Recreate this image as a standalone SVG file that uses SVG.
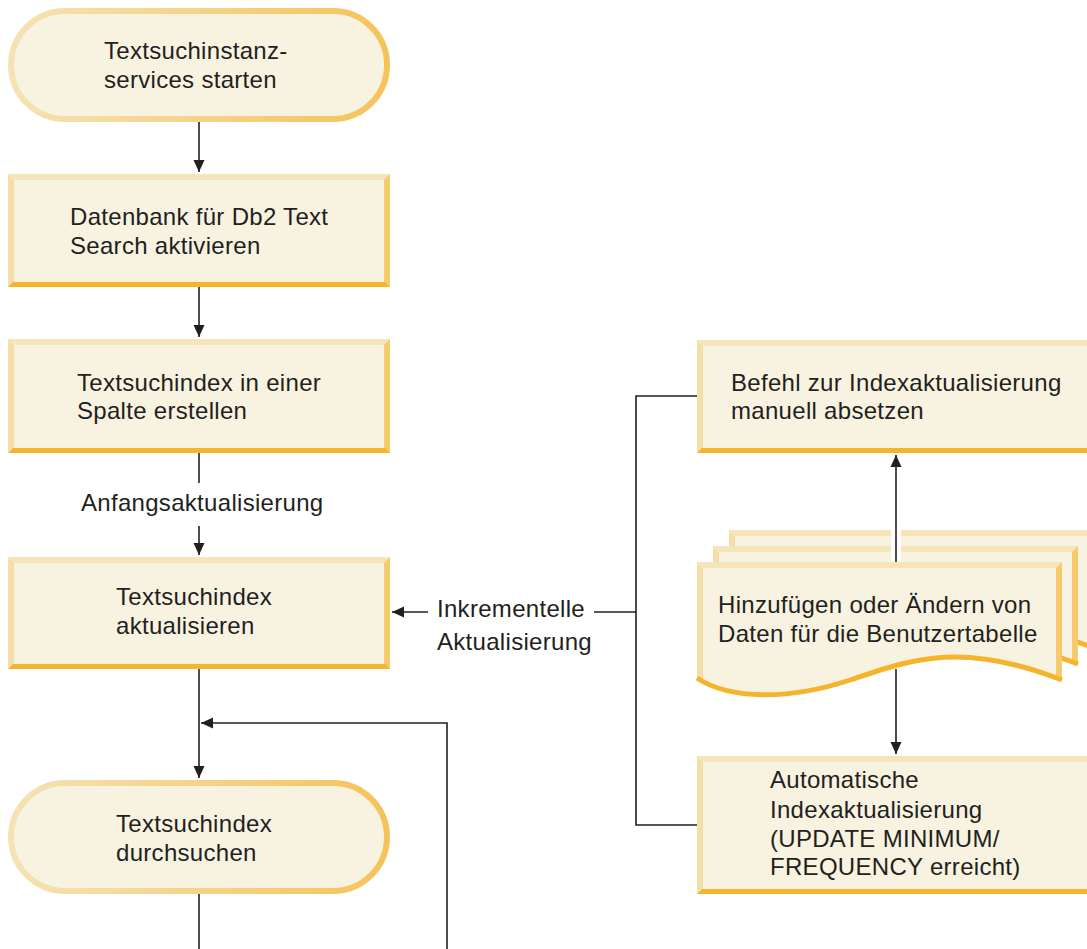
<svg xmlns="http://www.w3.org/2000/svg" width="1087" height="949" viewBox="0 0 1087 949">
<style>
.t{font-family:"Liberation Sans",Arial,sans-serif;font-size:24px;letter-spacing:0.3px;fill:#231F20}
.fill{fill:#F8F2E1}
.bt{fill:#F6E5BA}
.bl{fill:#F5DFA9}
.br{fill:#F6CB6B}
.bb{fill:#F4B42C}
.ln{stroke:#231F20;stroke-width:1.6;fill:none}
</style>
<defs>
<linearGradient id="tg" x1="0" y1="0" x2="1" y2="0">
<stop offset="0" stop-color="#F5E3B5"/>
<stop offset="1" stop-color="#F5C35A"/>
</linearGradient>
<marker id="ah" markerWidth="13" markerHeight="13" refX="12" refY="6.5" orient="auto" markerUnits="userSpaceOnUse">
<path d="M0,1 L12,6.5 L0,12 Z" fill="#231F20"/>
</marker>
<g id="doc">
<path class="fill" d="M697,562 H1062 V680 C960,640 910,660 850,680 C790,700 730,700 697,678 Z"/>
<polygon class="bt" points="697,562 1062,562 1056,568 703,568"/>
<polygon class="bl" points="697,562 703,568 703,682 697,678"/>
<polygon class="br" points="1062,562 1062,680 1056,677 1056,568"/>
<path d="M697,678 C730,700 790,700 850,680 C910,660 960,640 1062,680" fill="none" stroke="#F4B42C" stroke-width="5"/>
</g>
</defs>

<g id="connectors">
<path class="ln" d="M199,122 V172" marker-end="url(#ah)"/>
<path class="ln" d="M199,287 V337" marker-end="url(#ah)"/>
<path class="ln" d="M199,453 V483"/>
<path class="ln" d="M199,526 V555" marker-end="url(#ah)"/>
<path class="ln" d="M199,669 V778" marker-end="url(#ah)"/>
<path class="ln" d="M199,894 V949"/>
<path class="ln" d="M447,949 V723 H201" marker-end="url(#ah)"/>
<path class="ln" d="M697,396 H636 V825 H697"/>
<path class="ln" d="M636,612 H594"/>
<path class="ln" d="M428,612 H392" marker-end="url(#ah)"/>
</g>

<g id="n1">
<rect x="11" y="11" width="376" height="108" rx="54" fill="#F8F2E1" stroke="url(#tg)" stroke-width="6"/>
<text class="t" x="104" y="59">Textsuchinstanz-</text>
<text class="t" x="104" y="88">services starten</text>
</g>

<g id="n2">
<rect class="fill" x="8" y="174" width="382" height="113"/>
<polygon class="bt" points="8,174 390,174 384,180 14,180"/>
<polygon class="bl" points="8,174 14,180 14,282 8,287"/>
<polygon class="br" points="390,174 390,287 384,282 384,180"/>
<polygon class="bb" points="8,287 390,287 385,282 13,282"/>
<text class="t" x="70" y="225">Datenbank für Db2 Text</text>
<text class="t" x="70" y="254">Search aktivieren</text>
</g>

<g id="n3">
<rect class="fill" x="8" y="339" width="382" height="114"/>
<polygon class="bt" points="8,339 390,339 384,345 14,345"/>
<polygon class="bl" points="8,339 14,345 14,448 8,453"/>
<polygon class="br" points="390,339 390,453 384,448 384,345"/>
<polygon class="bb" points="8,453 390,453 385,448 13,448"/>
<text class="t" x="77" y="391">Textsuchindex in einer</text>
<text class="t" x="77" y="419">Spalte erstellen</text>
</g>

<g id="lbl-anfang">
<text class="t" x="81" y="511">Anfangsaktualisierung</text>
</g>

<g id="n4">
<rect class="fill" x="8" y="557" width="382" height="112"/>
<polygon class="bt" points="8,557 390,557 384,563 14,563"/>
<polygon class="bl" points="8,557 14,563 14,664 8,669"/>
<polygon class="br" points="390,557 390,669 384,664 384,563"/>
<polygon class="bb" points="8,669 390,669 385,664 13,664"/>
<text class="t" x="116" y="605">Textsuchindex</text>
<text class="t" x="116" y="634">aktualisieren</text>
</g>

<g id="n5">
<rect x="11" y="783" width="376" height="108" rx="54" fill="#F8F2E1" stroke="url(#tg)" stroke-width="6"/>
<text class="t" x="116" y="832">Textsuchindex</text>
<text class="t" x="116" y="861">durchsuchen</text>
</g>

<g id="lbl-inkr">
<text class="t" x="437" y="617">Inkrementelle</text>
<text class="t" x="437" y="650">Aktualisierung</text>
</g>

<g id="n6">
<rect class="fill" x="697" y="340" width="400" height="113"/>
<polygon class="bt" points="697,340 1097,340 1091,346 703,346"/>
<polygon class="bl" points="697,340 703,346 703,448 697,453"/>
<polygon class="bb" points="697,453 1097,453 1092,448 702,448"/>
<text class="t" x="731" y="391">Befehl zur Indexaktualisierung</text>
<text class="t" x="731" y="419">manuell absetzen</text>
</g>

<g id="n7">
<use href="#doc" transform="translate(32,-32)"/>
<use href="#doc" transform="translate(16,-16)"/>
<path d="M896,455 V562" stroke="#FFFFFF" stroke-width="10"/>
<use href="#doc"/>
<text class="t" x="718" y="613">Hinzufügen oder Ändern von</text>
<text class="t" x="718" y="642">Daten für die Benutzertabelle</text>
</g>

<g id="n8">
<rect class="fill" x="697" y="756" width="400" height="138"/>
<polygon class="bt" points="697,756 1097,756 1091,762 703,762"/>
<polygon class="bl" points="697,756 703,762 703,889 697,894"/>
<polygon class="bb" points="697,894 1097,894 1092,889 702,889"/>
<text class="t" x="770" y="788">Automatische</text>
<text class="t" x="770" y="818">Indexaktualisierung</text>
<text class="t" x="770" y="847">(UPDATE MINIMUM/</text>
<text class="t" x="770" y="875">FREQUENCY erreicht)</text>
</g>

<g id="connectors-right">
<path class="ln" d="M896,562 V455" marker-end="url(#ah)"/>
<path class="ln" d="M896,669 V754" marker-end="url(#ah)"/>
</g>
</svg>
